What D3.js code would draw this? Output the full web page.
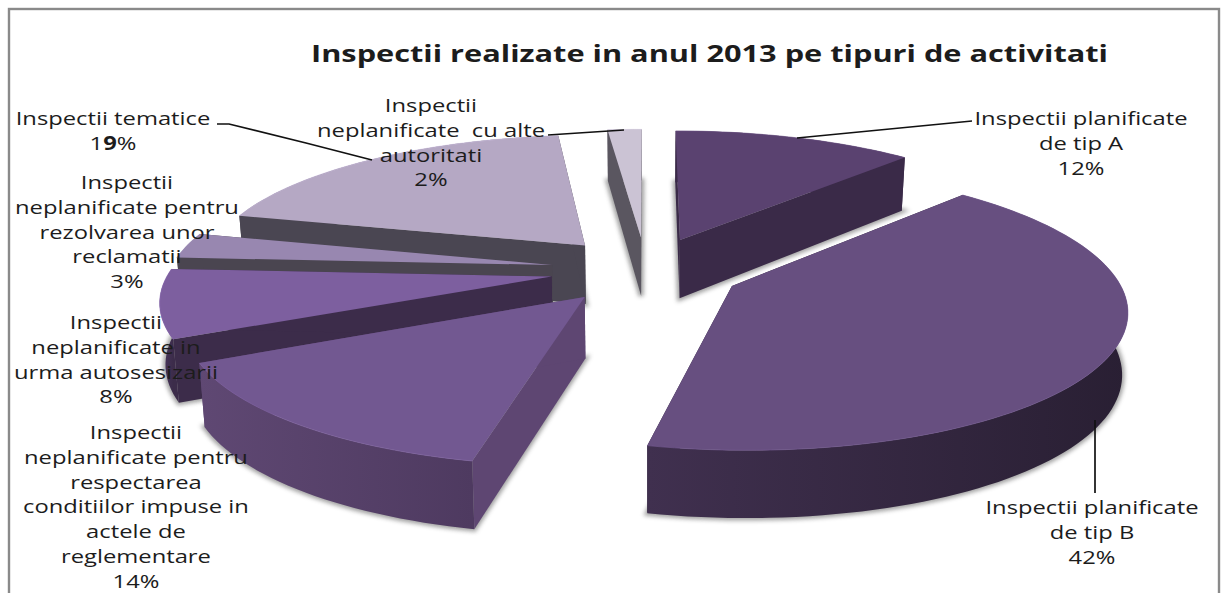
<!DOCTYPE html>
<html>
<head>
<meta charset="utf-8">
<script src="https://cdn.jsdelivr.net/npm/d3@7"></script>
<style>
  html, body { margin: 0; padding: 0; background: #fff; overflow: hidden; }
  text { font-family: "Open Sans", sans-serif; fill: #1c1c1c; white-space: pre; }
</style>
</head>
<body>
<div id="chart"></div>
<script>
var categories = [
  'Inspectii planificate de tip A',
  'Inspectii planificate de tip B',
  'Inspectii neplanificate pentru respectarea conditiilor impuse in actele de reglementare',
  'Inspectii neplanificate in urma autosesizarii',
  'Inspectii neplanificate pentru rezolvarea unor reclamatii',
  'Inspectii tematice',
  'Inspectii neplanificate cu alte autoritati'
];
// the labels show them rounded
var values = [12, 41.5, 14.4, 8, 3, 19.4, 1.7];
var labelLines = [
  ['Inspectii planificate', 'de tip A', '12%'],
  ['Inspectii planificate', 'de tip B', '42%'],
  ['Inspectii', 'neplanificate pentru', 'respectarea', 'conditiilor impuse in', 'actele de', 'reglementare', '14%'],
  ['Inspectii', 'neplanificate in', 'urma autosesizarii', '8%'],
  ['Inspectii', 'neplanificate pentru', 'rezolvarea unor', 'reclamatii', '3%'],
  ['Inspectii tematice', '19%'],
  ['Inspectii', 'neplanificate  cu alte', 'autoritati', '2%']
];
var title = 'Inspectii realizate in anul 2013 pe tipuri de activitati';

// style, one entry per slice
var topColors = ['#5a4270', '#674f80', '#725891', '#7d5f9f', '#9887b0', '#b5a8c4', '#cbc3d4'];
var wallColors = ['#3a2a48', '#2e2238', '#5e4672', '#3c2c4a', '#4a4550', '#4a4652', '#5a5660'];
var rimLeft = ['#3a2a48', '#40304f', '#5f4873', '#4a3660', '#4a4550', '#4a4652', '#5a5660'];
var rimRight = ['#3a2a48', '#291f33', '#4e3a60', '#3c2c4a', '#4a4550', '#4a4652', '#5a5660'];
var labelX = [1081, 1092, 136, 116, 127, 113, 431];
var labelY = [118, 507, 432, 322, 182, 118, 105];
// painter's order, back to front
var drawOrder = [6, 5, 0, 4, 3, 1, 2];

// params
var width = 1222;
var height = 593;
var cx = 646;
var cy = 270;
var radiusX = 382;
var radiusY = 134;
var perspective = 0.152;
var explode = 0.25;
var lineHeight = 24.8;
var textStretch = 1.25;

var planeX = d3.scaleLinear().domain([-1, 1]).range([-radiusX, radiusX]);
var planeY = d3.scaleLinear().domain([-1, 1]).range([-radiusY, radiusY]);

function project(px, py, low) {
  var f = 1 / (1 - perspective * py);
  var x = planeX(px) * f;
  var y = planeY(py) * f + cy;
  if (low) {
    y += 60 + 7 * py;
    x *= 0.988;
  }
  return [cx + x, y];
}

var svg = d3.select('#chart').append('svg')
  .attr('width', width)
  .attr('height', height);

var defs = svg.append('defs');
defs.append('filter')
  .attr('id', 'soft')
  .attr('x', '-20%').attr('y', '-20%')
  .attr('width', '140%').attr('height', '140%')
  .append('feGaussianBlur')
  .attr('stdDeviation', 2.2);

svg.append('rect')
  .attr('x', 9)
  .attr('y', 9)
  .attr('width', 1210)
  .attr('height', 620)
  .attr('fill', '#fff')
  .attr('stroke', '#8a8a8a')
  .attr('stroke-width', 2.4);

var pie = d3.pie().sort(null).value(d => d)(values);
var line = d3.line();

drawOrder.forEach(function(i) {
  var slice = pie[i];
  var a0 = slice.startAngle;
  var a1 = slice.endAngle;
  var mid = (a0 + a1) / 2;
  var ox = Math.sin(mid) * explode;
  var oy = -Math.cos(mid) * explode;
  var steps = Math.max(4, Math.ceil((a1 - a0) / 0.03));
  var angles = d3.range(steps + 1).map(k => a0 + ((a1 - a0) * k) / steps);

  var rimTop = angles.map(a => project(ox + Math.sin(a), oy - Math.cos(a), false));
  var rimLow = angles.map(a => project(ox + Math.sin(a), oy - Math.cos(a), true));
  var apexTop = project(ox, oy, false);
  var apexLow = project(ox, oy, true);

  var g = svg.append('g').attr('class', 'slice').attr('data-name', categories[i]);

  // soft shadow left by the bottom face
  g.append('path')
    .attr('d', line([apexLow].concat(rimLow)) + 'Z')
    .attr('fill', '#555')
    .attr('stroke', '#555')
    .attr('stroke-width', 5)
    .attr('opacity', 0.55)
    .attr('filter', 'url(#soft)');

  // radial walls
  [[rimTop[0], rimLow[0]], [rimTop[steps], rimLow[steps]]].forEach(function(edge) {
    g.append('path')
      .attr('d', line([apexTop, edge[0], edge[1], apexLow]) + 'Z')
      .attr('fill', wallColors[i]);
  });

  // outer wall
  var gradId = 'rim-' + i;
  var xs = rimTop.map(p => p[0]);
  var grad = defs.append('linearGradient')
    .attr('id', gradId)
    .attr('gradientUnits', 'userSpaceOnUse')
    .attr('x1', d3.min(xs)).attr('x2', d3.max(xs))
    .attr('y1', 0).attr('y2', 0);
  grad.append('stop').attr('offset', 0).attr('stop-color', rimLeft[i]);
  grad.append('stop').attr('offset', 1).attr('stop-color', rimRight[i]);
  g.append('path')
    .attr('d', line(rimTop.concat(rimLow.slice().reverse())) + 'Z')
    .attr('fill', 'url(#' + gradId + ')');

  // top face
  g.append('path')
    .attr('d', line([apexTop].concat(rimTop)) + 'Z')
    .attr('fill', topColors[i]);

  // thin bevel along the rim
  g.append('path')
    .attr('d', line(rimTop))
    .attr('fill', 'none')
    .attr('stroke', d3.color(topColors[i]).brighter(0.4))
    .attr('stroke-width', 1)
    .attr('opacity', 0.6);
});

// leader lines
var leaders = [
  [[797, 138], [972, 121]],
  [[1095, 420], [1095, 493]],
  [[548, 135], [624, 130]],
  [[217, 124], [229, 124], [306, 143], [372, 160]]
];
svg.append('g')
  .selectAll('path')
  .data(leaders)
  .enter()
  .append('path')
  .attr('d', d => line(d))
  .attr('fill', 'none')
  .attr('stroke', '#111')
  .attr('stroke-width', 1.7);

// labels, the original text is stretched sideways
labelLines.forEach(function(lines, i) {
  lines.forEach(function(txt, k) {
    var t = svg.append('text')
      .attr('x', labelX[i])
      .attr('y', labelY[i] + k * lineHeight + 7)
      .attr('text-anchor', 'middle')
      .attr('font-size', 19);
    if (txt === '19%') {
      t.append('tspan').text('1');
      t.append('tspan').attr('font-weight', 700).text('9');
      t.append('tspan').text('%');
    } else {
      t.text(txt);
    }
    t.attr('textLength', t.node().getComputedTextLength() * textStretch)
      .attr('lengthAdjust', 'spacingAndGlyphs');
  });
});

svg.append('text')
  .attr('x', 311)
  .attr('y', 62)
  .attr('font-size', 24)
  .attr('font-weight', 700)
  .attr('textLength', 797)
  .attr('lengthAdjust', 'spacingAndGlyphs')
  .text(title);
</script>
</body>
</html>
